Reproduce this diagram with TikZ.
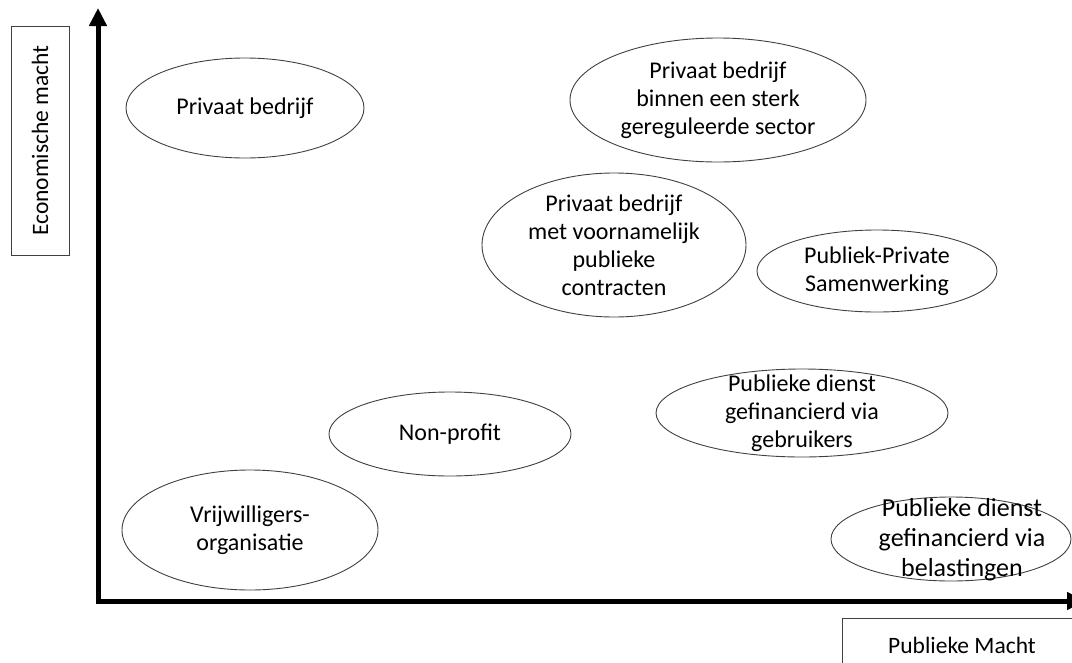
\documentclass[tikz,border=0pt]{standalone}
\usepackage{fontspec}
\setmainfont{Carlito}
\usepackage{tikz}
\usetikzlibrary{shapes.geometric, arrows.meta}

\tikzset{
    blob/.style={ellipse, draw=black!75, line width=0.9pt, inner sep=0pt},
    blobtext/.style={align=center, inner sep=0pt, font=\fontsize{24}{28}\selectfont},
    axis/.style={line width=5pt, {Triangle[length=18pt,width=17pt]}-{Triangle[length=18pt,width=17pt]}},
    axislabel/.style={draw=black!75, line width=0.8pt, inner sep=0pt, font=\fontsize{23.5}{28}\selectfont},
}

\begin{document}
\begin{tikzpicture}[x=1pt, y=-1pt]
    \clip (0,0) rectangle (1072,662);
    % axes
    \coordinate (origin) at (98,601);
    \coordinate (ytop) at (98,8);
    \coordinate (xend) at (1085,601);
    \draw[axis] (ytop) -- (origin) -- (xend);
    \node[axislabel, rotate=90, minimum width=229pt, minimum height=58pt] (ylab) at (40,140.5) {Economische macht};
    \node[axislabel, minimum width=240pt, minimum height=54pt] (xlab) at (962,645) {Publieke Macht};
    % ellipses
    \foreach \n/\x/\y/\rx/\ry in {pb/245/108/119/50, pbr/718/100/148/62, pbc/614/245/132/72,
        pps/877/271/120/41, pdg/802/413/146/44, np/450/434/121/42, vo/250/530/128/60, pdb/951/539/120/42} {
        \node[blob, minimum width=2*\rx*1pt, minimum height=2*\ry*1pt] (\n) at (\x,\y) {};
    }
    % texts
    \node[blobtext] (pb-t) at (pb) {Privaat bedrijf};
    \node[blobtext] (pbr-t) at (pbr) {Privaat bedrijf\\binnen een sterk\\gereguleerde sector};
    \node[blobtext] (pbc-t) at (pbc) {Privaat bedrijf\\met voornamelijk\\publieke\\contracten};
    \node[blobtext] (pps-t) at (pps) {Publiek-Private\\Samenwerking};
    \node[blobtext] (pdg-t) at (pdg) {Publieke dienst\\gefinancierd via\\gebruikers};
    \node[blobtext] (np-t) at (np) {Non-profit};
    \node[blobtext] (vo-t) at (vo) {Vrijwilligers-\\organisatie};
    \node[blobtext, font=\fontsize{26}{30}\selectfont] (pdb-t) at (962,540) {Publieke dienst\\gefinancierd via\\belastingen};
\end{tikzpicture}
\end{document}
